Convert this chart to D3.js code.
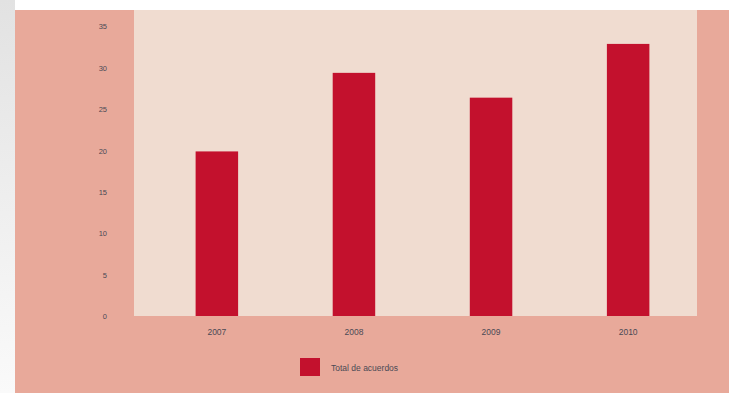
<!DOCTYPE html>
<html>
<head>
<meta charset="utf-8">
<script src="https://cdn.jsdelivr.net/npm/d3@7"></script>
<style>
  body { margin: 0; background: #fff; }
  text { font-family: "Liberation Sans", Arial, sans-serif; }
</style>
</head>
<body>
<div id="chart"></div>
<script>
// data
var years = ["2007", "2008", "2009", "2010"];
var acuerdos = [19.9, 29.4, 26.4, 32.9];
var yTicks = [0, 5, 10, 15, 20, 25, 30, 35];
var seriesName = "Total de acuerdos";

var W = 729, H = 393;
var plot = { left: 134, right: 697, top: 10, bottom: 316 };
var textColor = "#4a4a55";

var svg = d3.select("#chart")
  .append("svg")
  .attr("width", W)
  .attr("height", H);

// soft grey shadow on the left edge
var grad = svg.append("defs").append("linearGradient")
  .attr("id", "shade")
  .attr("x1", "0").attr("x2", "0").attr("y1", "0").attr("y2", "1");
grad.append("stop").attr("offset", "0").attr("stop-color", "#e2e2e2");
grad.append("stop").attr("offset", "1").attr("stop-color", "#fafafa");

svg.append("rect")
  .attr("x", 0).attr("y", 0)
  .attr("width", 15).attr("height", H)
  .attr("fill", "url(#shade)");

// outer salmon panel
svg.append("rect")
  .attr("x", 15).attr("y", 10)
  .attr("width", W - 15).attr("height", H - 10)
  .attr("fill", "#e8a99a");

// plot area
svg.append("rect")
  .attr("x", plot.left).attr("y", plot.top)
  .attr("width", plot.right - plot.left)
  .attr("height", plot.bottom - plot.top)
  .attr("fill", "#f0dcd0");

var x = d3.scaleBand()
  .domain(years)
  .range([149, 696])
  .paddingInner(0.69)
  .paddingOuter(0.34);

var y = d3.scaleLinear()
  .domain([0, 37])
  .range([plot.bottom, plot.top]);

// bars
svg.selectAll(".bar")
  .data(acuerdos)
  .enter().append("rect")
  .attr("class", "bar")
  .attr("x", (d, i) => x(years[i]))
  .attr("y", d => y(d))
  .attr("width", x.bandwidth())
  .attr("height", d => y(0) - y(d))
  .attr("fill", "#c3112d");

// y axis labels
var yAxis = svg.append("g")
  .attr("transform", "translate(107,0)")
  .call(d3.axisLeft(y).tickValues(yTicks).tickSize(0).tickPadding(0));
yAxis.select(".domain").remove();
yAxis.selectAll("text")
  .attr("font-size", 7.5)
  .attr("fill", textColor)
  .style("font-family", "Liberation Sans, Arial, sans-serif");

// x axis labels
var xAxis = svg.append("g")
  .attr("transform", "translate(0," + (plot.bottom + 13) + ")")
  .call(d3.axisBottom(x).tickSize(0).tickPadding(0));
xAxis.select(".domain").remove();
xAxis.selectAll("text")
  .attr("font-size", 8.5)
  .attr("fill", textColor)
  .style("font-family", "Liberation Sans, Arial, sans-serif");

// legend
var legend = svg.append("g")
  .attr("transform", "translate(300,358)");

legend.append("rect")
  .attr("width", 20)
  .attr("height", 18)
  .attr("fill", "#c3112d");

legend.append("text")
  .attr("x", 31)
  .attr("y", 10)
  .attr("dy", ".35em")
  .attr("font-size", 8.5)
  .attr("fill", textColor)
  .text(seriesName);
</script>
</body>
</html>
